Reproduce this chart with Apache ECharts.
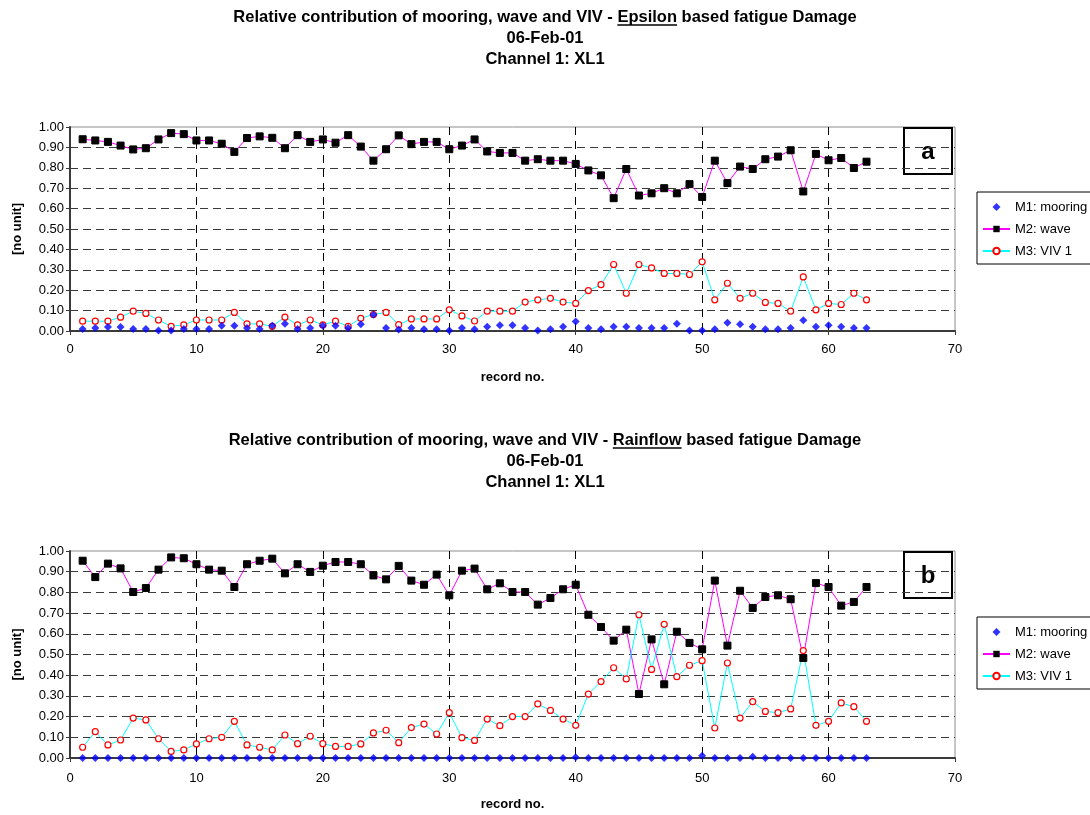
<!DOCTYPE html>
<html>
<head>
<meta charset="utf-8">
<script src="https://cdn.jsdelivr.net/npm/echarts@6/dist/echarts.min.js"></script>
<style>
  html, body { margin: 0; padding: 0; background: #fff; }
  #chart { width: 1090px; height: 815px; }
</style>
</head>
<body>
<div id="chart"></div>
<script>
// Record numbers along the x axis
const records = [1,2,3,4,5,6,7,8,9,10,11,12,13,14,15,16,17,18,19,20,21,22,23,24,25,26,27,28,29,30,
  31,32,33,34,35,36,37,38,39,40,41,42,43,44,45,46,47,48,49,50,51,52,53,54,55,56,57,58,59,60,61,62,63];

// Epsilon based fatigue damage: relative contributions
const epsMooring = [0.010,0.015,0.020,0.020,0.010,0.010,0.003,0.003,0.010,0.010,
  0.010,0.026,0.026,0.015,0.010,0.026,0.036,0.010,0.015,0.026,
  0.026,0.015,0.033,0.080,0.015,0.007,0.015,0.008,0.008,0.002,
  0.015,0.008,0.021,0.028,0.028,0.015,0.002,0.008,0.021,0.046,
  0.015,0.008,0.021,0.021,0.015,0.015,0.015,0.035,0.002,0.002,
  0.008,0.040,0.033,0.021,0.008,0.008,0.015,0.053,0.021,0.028,
  0.021,0.015,0.015];
const epsWave = [0.940,0.934,0.927,0.909,0.890,0.896,0.939,0.970,0.965,0.934,
  0.934,0.918,0.878,0.946,0.954,0.947,0.896,0.960,0.927,0.939,
  0.923,0.960,0.904,0.835,0.891,0.959,0.916,0.927,0.927,0.891,
  0.909,0.939,0.880,0.873,0.873,0.835,0.842,0.835,0.835,0.819,
  0.787,0.763,0.651,0.794,0.664,0.675,0.700,0.675,0.720,0.657,
  0.835,0.725,0.806,0.794,0.842,0.855,0.886,0.684,0.868,0.837,
  0.848,0.799,0.830];
const epsViv = [0.048,0.048,0.048,0.068,0.097,0.086,0.054,0.023,0.030,0.054,
  0.054,0.054,0.091,0.035,0.035,0.023,0.068,0.030,0.054,0.030,
  0.048,0.023,0.062,0.081,0.091,0.031,0.059,0.059,0.059,0.104,
  0.074,0.049,0.097,0.097,0.097,0.142,0.153,0.160,0.142,0.135,
  0.198,0.227,0.326,0.185,0.326,0.309,0.282,0.282,0.277,0.339,
  0.153,0.234,0.160,0.185,0.140,0.135,0.097,0.265,0.104,0.135,
  0.130,0.185,0.153];

// Rainflow based fatigue damage: relative contributions
const rfMooring = [0,0,0,0,0,0,0,0,0,0,
  0,0,0,0,0,0,0,0,0,0,
  0,0,0,0,0,0,0,0,0,0,
  0,0,0,0,0,0,0,0,0,0.004,
  0,0,0,0,0,0,0,0,0,0.011,
  0,0,0,0.006,0,0,0,0,0,0,
  0,0,0];
const rfWave = [0.953,0.874,0.939,0.916,0.802,0.821,0.910,0.969,0.965,0.936,
  0.910,0.905,0.826,0.936,0.953,0.963,0.892,0.936,0.899,0.929,
  0.947,0.947,0.936,0.882,0.863,0.928,0.857,0.837,0.886,0.786,
  0.905,0.915,0.815,0.844,0.802,0.802,0.741,0.773,0.815,0.837,
  0.692,0.633,0.567,0.620,0.309,0.573,0.356,0.610,0.556,0.525,
  0.857,0.543,0.808,0.725,0.778,0.786,0.767,0.483,0.845,0.826,
  0.736,0.754,0.826];
const rfViv = [0.052,0.127,0.063,0.087,0.193,0.184,0.093,0.032,0.039,0.068,
  0.093,0.100,0.177,0.063,0.052,0.039,0.111,0.069,0.105,0.069,
  0.056,0.056,0.068,0.121,0.134,0.074,0.147,0.164,0.116,0.219,
  0.098,0.085,0.188,0.156,0.200,0.200,0.261,0.230,0.188,0.158,
  0.309,0.369,0.436,0.382,0.692,0.428,0.646,0.393,0.448,0.470,
  0.145,0.459,0.193,0.272,0.225,0.219,0.237,0.519,0.158,0.177,
  0.266,0.248,0.177];

const seriesNames = ['M1: mooring', 'M2: wave', 'M3: VIV 1'];
const xTicks = { min: 0, max: 70, step: 10 };
const yTicks = { min: 0, max: 1, step: 0.1 };

const titleHead = 'Relative contribution of mooring, wave and VIV - ';
const titleTail = ' based fatigue Damage';
const titleWords = ['Epsilon', 'Rainflow'];
const subLines = ['06-Feb-01', 'Channel 1: XL1'];
const panelLetters = ['a', 'b'];

const FONT = 'Arial, "Liberation Sans", sans-serif';
const W = 1090;
const TITLE_SIZE = 16.5;
const TITLE_LH = 21;

const grids = [
  { left: 70, top: 127, width: 885, height: 204 },
  { left: 70, top: 551, width: 885, height: 207 }
];
const titleTops = [2, 425];
const legendTops = [192, 617];
const xLabelMargins = [12, 14];
const xNameGaps = [40, 40];

function pairs(values) {
  return records.map((r, i) => [r, values[i]]);
}
const panelData = [
  [epsMooring, epsWave, epsViv],
  [rfMooring, rfWave, rfViv]
];

const chart = echarts.init(document.getElementById('chart'), null, { renderer: 'canvas' });

// measure text to place the underline under the highlighted title word
const mctx = document.createElement('canvas').getContext('2d');
function textWidth(str, font) { mctx.font = font; return mctx.measureText(str).width; }

const titleFont = 'bold ' + TITLE_SIZE + 'px ' + FONT;

const option = {
  backgroundColor: '#fff',
  animation: false,
  title: [],
  grid: [],
  xAxis: [],
  yAxis: [],
  legend: [],
  series: [],
  graphic: []
};

for (let p = 0; p < 2; p++) {
  const line1 = titleHead + titleWords[p] + titleTail;
  option.title.push({
    text: [line1].concat(subLines).join('\n'),
    left: 'center',
    top: titleTops[p],
    textStyle: { fontFamily: FONT, fontWeight: 'bold', fontSize: TITLE_SIZE, lineHeight: TITLE_LH, color: '#000' }
  });

  // underline of the method name in the first title line
  const total = textWidth(line1, titleFont);
  const x0 = W / 2 - total / 2 + textWidth(titleHead, titleFont);
  const x1 = x0 + textWidth(titleWords[p], titleFont);
  const uy = titleTops[p] + 5 + TITLE_LH / 2 + TITLE_SIZE * 0.45;
  option.graphic.push({
    type: 'line', silent: true, z: 10,
    shape: { x1: x0, y1: uy, x2: x1, y2: uy },
    style: { stroke: '#000', lineWidth: 1.4 }
  });

  const g = grids[p];
  option.grid.push(Object.assign({ show: true, borderColor: '#8c8c8c', borderWidth: 1, backgroundColor: '#fff' }, g));

  option.xAxis.push({
    type: 'value', gridIndex: p,
    min: xTicks.min, max: xTicks.max, interval: xTicks.step,
    name: 'record no.', nameLocation: 'middle', nameGap: xNameGaps[p],
    nameTextStyle: { fontFamily: FONT, fontWeight: 'bold', fontSize: 13, color: '#000' },
    axisLine: { show: true, onZero: false, lineStyle: { color: '#3a3a3a', width: 2 } },
    axisTick: { show: true, length: 4, lineStyle: { color: '#3a3a3a' } },
    axisLabel: { fontFamily: FONT, fontSize: 13, color: '#000', margin: xLabelMargins[p] },
    splitLine: { show: true, showMinLine: false, showMaxLine: false,
      lineStyle: { color: '#000', width: 1, type: [8, 6] } }
  });

  option.yAxis.push({
    type: 'value', gridIndex: p,
    min: yTicks.min, max: yTicks.max, interval: yTicks.step,
    name: '[no unit]', nameLocation: 'middle', nameGap: 46, nameRotate: 90,
    nameTextStyle: { fontFamily: FONT, fontWeight: 'bold', fontSize: 13, color: '#000' },
    axisLine: { show: true, onZero: false, lineStyle: { color: '#3a3a3a', width: 2 } },
    axisTick: { show: true, length: 4, lineStyle: { color: '#3a3a3a' } },
    axisLabel: { fontFamily: FONT, fontSize: 13, color: '#000', margin: 6,
      formatter: v => v.toFixed(2) },
    splitLine: { show: true, showMinLine: false, showMaxLine: false,
      lineStyle: { color: '#3a3a3a', width: 1, type: [8, 5] } }
  });

  option.legend.push({
    orient: 'vertical',
    left: 977, top: legendTops[p],
    padding: [7, 4, 5, 5],
    itemWidth: 27, itemHeight: 8, itemGap: 6,
    symbolKeepAspect: true,
    borderColor: '#000', borderWidth: 1, backgroundColor: '#fff',
    textStyle: { fontFamily: FONT, fontSize: 13, color: '#000', lineHeight: 16 },
    data: [
      { name: seriesNames[0], icon: 'path://M5,0L10,5L5,10L0,5Z' },
      seriesNames[1],
      seriesNames[2]
    ]
  });

  const [m1, m2, m3] = panelData[p];
  // mooring diamonds sit on top of the other markers
  option.series.push({
    name: seriesNames[0], type: 'scatter', xAxisIndex: p, yAxisIndex: p,
    symbol: 'diamond', symbolSize: 8,
    itemStyle: { color: '#0000ff' },
    data: pairs(m1), z: 6
  });
  option.series.push({
    name: seriesNames[1], type: 'line', xAxisIndex: p, yAxisIndex: p,
    symbol: 'rect', symbolSize: 7,
    lineStyle: { color: '#ff00ff', width: 1 },
    itemStyle: { color: '#000', borderColor: '#000' },
    data: pairs(m2), z: 4
  });
  option.series.push({
    name: seriesNames[2], type: 'line', xAxisIndex: p, yAxisIndex: p,
    symbol: 'circle', symbolSize: 6, showAllSymbol: true,
    lineStyle: { color: '#00ffff', width: 1 },
    itemStyle: { color: '#fff', borderColor: '#ff0000', borderWidth: 1.2 },
    data: pairs(m3), z: 4
  });

  // panel letter box in the top-right corner of the plot
  const bx = g.left + g.width - 51, by = g.top + 1;
  option.graphic.push({
    type: 'group', z: 20, silent: true,
    children: [
      { type: 'rect', shape: { x: bx, y: by, width: 48, height: 46 },
        style: { fill: '#fff', stroke: '#000', lineWidth: 2 } },
      { type: 'text', x: bx + 24, y: by + 24,
        style: { text: panelLetters[p], fill: '#000', font: 'bold 24px ' + FONT,
          textAlign: 'center', textVerticalAlign: 'middle' } }
    ]
  });
}

chart.setOption(option);
</script>
</body>
</html>
